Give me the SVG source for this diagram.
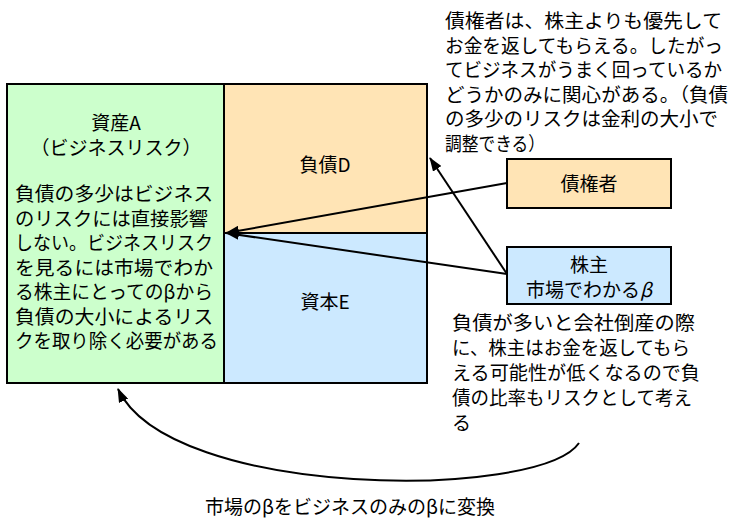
<svg xmlns="http://www.w3.org/2000/svg" width="745" height="532" viewBox="0 0 745 532">
<style>
.t{font-family:"Noto Sans CJK JP","Noto Sans",sans-serif;font-size:19px;fill:#000}
.c{text-anchor:middle}
.box{stroke:#000;stroke-width:2}
.ln{fill:none;stroke:#000;stroke-width:2}
</style>
<defs>
<marker id="ah" markerUnits="userSpaceOnUse" markerWidth="14" markerHeight="10" refX="13" refY="5" orient="auto">
<path d="M0,0 L14,5 L0,10 Z" fill="#000"/>
</marker>
</defs>
<rect width="745" height="532" fill="#fff"/>
<g id="asset">
<rect class="box" x="7" y="84" width="217" height="299" fill="#CCFFCC"/>
<text class="t c" x="116" y="130">資産A</text>
<text class="t c" x="116" y="155">（ビジネスリスク）</text>
<text class="t" x="15" y="201" textLength="198" lengthAdjust="spacingAndGlyphs">負債の多少はビジネス</text>
<text class="t" x="15" y="225.5" textLength="193" lengthAdjust="spacingAndGlyphs">のリスクには直接影響</text>
<text class="t" x="15" y="250" textLength="198" lengthAdjust="spacingAndGlyphs">しない。ビジネスリスク</text>
<text class="t" x="15" y="274.5" textLength="198" lengthAdjust="spacingAndGlyphs">を見るには市場でわか</text>
<text class="t" x="15" y="299" textLength="198" lengthAdjust="spacingAndGlyphs">る株主にとってのβから</text>
<text class="t" x="15" y="323.5" textLength="198" lengthAdjust="spacingAndGlyphs">負債の大小によるリス</text>
<text class="t" x="15" y="348" textLength="203" lengthAdjust="spacingAndGlyphs">クを取り除く必要がある</text>
</g>
<g id="debt">
<rect class="box" x="224" y="84" width="203" height="149" fill="#FFE4B5"/>
<text class="t c" x="325" y="172">負債D</text>
</g>
<g id="equity">
<rect class="box" x="224" y="233" width="203" height="150" fill="#CCE9FF"/>
<text class="t c" x="325" y="309">資本E</text>
</g>
<g id="creditor">
<rect class="box" x="507" y="159" width="164" height="49" fill="#FFE4B5"/>
<text class="t c" x="589" y="191">債権者</text>
</g>
<g id="shareholder">
<rect class="box" x="507" y="247" width="164" height="57" fill="#CCE9FF"/>
<text class="t c" x="589" y="272">株主</text>
<text class="t c" x="589" y="297">市場でわかる<tspan font-style="italic">β</tspan></text>
</g>
<g id="note-creditor">
<text class="t" x="445" y="28" textLength="277" lengthAdjust="spacingAndGlyphs">債権者は、株主よりも優先して</text>
<text class="t" x="445" y="52.5" textLength="278" lengthAdjust="spacingAndGlyphs">お金を返してもらえる。したがっ</text>
<text class="t" x="445" y="77" textLength="277" lengthAdjust="spacingAndGlyphs">てビジネスがうまく回っているか</text>
<text class="t" x="445" y="101.5" textLength="283" lengthAdjust="spacingAndGlyphs">どうかのみに関心がある。（負債</text>
<text class="t" x="445" y="126" textLength="273" lengthAdjust="spacingAndGlyphs">の多少のリスクは金利の大小で</text>
<text class="t" x="445" y="150.5" textLength="100" lengthAdjust="spacingAndGlyphs">調整できる）</text>
</g>
<g id="note-shareholder">
<text class="t" x="452" y="330" textLength="243" lengthAdjust="spacingAndGlyphs">負債が多いと会社倒産の際</text>
<text class="t" x="452" y="355" textLength="238" lengthAdjust="spacingAndGlyphs">に、株主はお金を返してもら</text>
<text class="t" x="452" y="380" textLength="248" lengthAdjust="spacingAndGlyphs">える可能性が低くなるので負</text>
<text class="t" x="452" y="405" textLength="240" lengthAdjust="spacingAndGlyphs">債の比率もリスクとして考え</text>
<text class="t" x="452" y="430">る</text>
</g>
<g id="label-convert">
<text class="t c" x="350" y="514">市場のβをビジネスのみのβに変換</text>
</g>
<g id="connectors">
<line class="ln" x1="507" y1="183" x2="226" y2="233" marker-end="url(#ah)"/>
<line class="ln" x1="507" y1="274" x2="226" y2="233" marker-end="url(#ah)"/>
<line class="ln" x1="507" y1="274" x2="430" y2="158" marker-end="url(#ah)"/>
<path class="ln" d="M579,443 C540,500 170,500 118,389" marker-end="url(#ah)"/>
</g>
</svg>
